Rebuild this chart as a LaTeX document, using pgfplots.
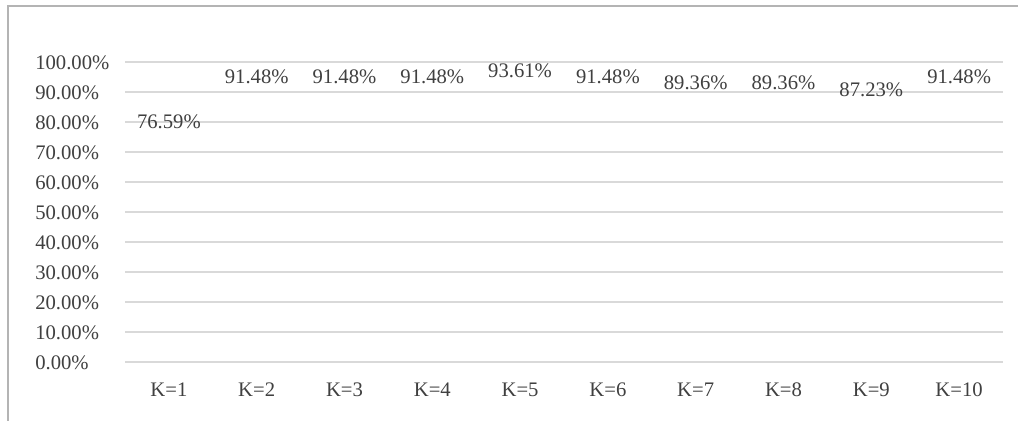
\documentclass[border=0pt]{standalone}
\usepackage{fontspec}
\setmainfont{Liberation Serif}
\usepackage{pgfplots}
\pgfplotsset{compat=1.18}
\definecolor{gridgray}{HTML}{D9D9D9}
\definecolor{framegray}{HTML}{B4B4B4}
\definecolor{labelgray}{HTML}{404040}
\newcommand{\chartfont}{\fontsize{15.5pt}{18pt}\selectfont}
% 1 px of the reference = 0.75pt
\begin{document}
\begin{tikzpicture}
\useasboundingbox (0pt,0pt) rectangle (763.5pt,315.75pt);
% chart frame, only left and top edges are visible
\draw[framegray, line width=0.9pt] (6pt,0pt) -- (6pt,311.25pt) -- (763.5pt,311.25pt);
\begin{axis}[
    at={(93.75pt,44.25pt)}, anchor=south west,
    scale only axis, width=658.5pt, height=225pt,
    xmin=0.5, xmax=10.5, ymin=0, ymax=100,
    xtick={1,...,10},
    xticklabels={{K=1},{K=2},{K=3},{K=4},{K=5},{K=6},{K=7},{K=8},{K=9},{K=10}},
    ytick={0,10,...,100},
    yticklabel={\pgfmathprintnumber[fixed,fixed zerofill,precision=2]{\tick}\%},
    /pgf/number format/assume math mode=true,
    axis line style={draw=none},
    major tick length=0pt,
    ymajorgrids, grid style={gridgray, line width=1pt},
    every tick label/.append style={font=\chartfont, text=labelgray, inner sep=0pt},
    yticklabel style={anchor=base west, xshift=-67.5pt, yshift=-6pt},
    xticklabel style={anchor=base, yshift=-26pt},
    clip=false,
]
\addplot[draw=none, mark=none,
    nodes near coords={\pgfmathprintnumber[fixed,fixed zerofill,precision=2]{\pgfplotspointmeta}\%},
    nodes near coords style={font=\chartfont, text=labelgray, anchor=base, inner sep=0pt, yshift=3pt}]
  coordinates {
    (1, 76.59)
    (2, 91.48)
    (3, 91.48)
    (4, 91.48)
    (5, 93.61)
    (6, 91.48)
    (7, 89.36)
    (8, 89.36)
    (9, 87.23)
    (10, 91.48)
  };
\end{axis}
\end{tikzpicture}
\end{document}
